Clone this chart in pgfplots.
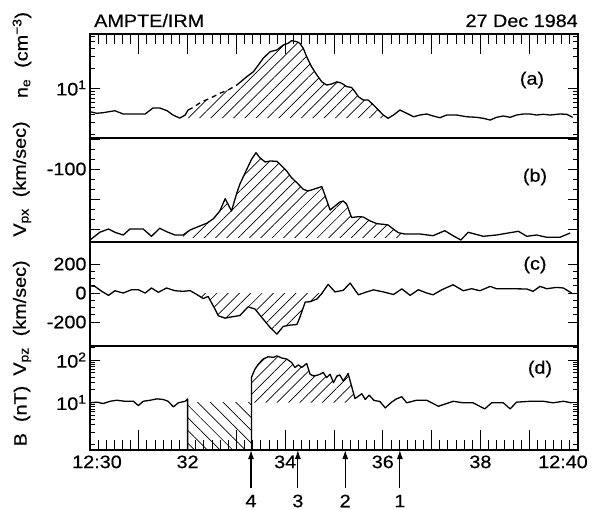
\documentclass[border=0pt]{standalone}
\usepackage{fontspec}
\setmainfont{Liberation Sans}[FakeStretch=1.1,FakeBold=0.5]
\usepackage{pgfplots}
\pgfplotsset{compat=1.18}
\usepackage{pgfplotstable}
\usepgfplotslibrary{fillbetween}
\usetikzlibrary{patterns.meta,arrows.meta}

\newcommand{\lbl}{\fontsize{18}{21}\selectfont}

% (a) electron density, cm^-3
\pgfplotstableread{
x y
30.00 4.38
30.14 4.14
30.27 4.23
30.51 4.53
30.68 4.04
30.88 4.04
31.13 4.04
31.29 4.98
31.43 4.98
31.58 4.53
31.70 3.90
31.84 3.50
31.95 3.90
32.01 4.64
32.08 4.92
32.29 6.20
32.46 6.98
32.66 8.31
32.83 9.33
33.01 11.1
33.21 14.8
33.35 17.7
33.45 22.3
33.55 28.2
33.69 35.5
33.83 37.7
33.96 44.8
34.06 47.5
34.13 52.1
34.24 50.3
34.30 47.5
34.37 40.0
34.44 29.8
34.54 21.0
34.65 15.7
34.75 12.4
34.85 11.1
34.95 11.5
35.06 12.4
35.16 11.8
35.26 10.5
35.36 10.2
35.43 8.79
35.50 7.38
35.60 6.58
35.70 6.58
35.81 5.52
35.91 4.64
36.01 3.90
36.11 3.48
36.22 3.90
36.35 4.64
36.49 4.14
36.63 3.67
36.76 3.90
36.90 4.04
37.03 3.77
37.17 3.55
37.31 3.90
37.51 3.90
37.72 3.67
37.92 3.60
38.06 3.48
38.20 3.27
38.33 3.60
38.47 3.77
38.61 3.60
38.74 3.90
38.88 4.04
39.02 4.04
39.15 3.90
39.29 4.00
39.43 3.90
39.63 4.04
39.77 4.00
39.89 3.60
}\tne

% (b) Vpx, km/sec
\pgfplotstableread{
x y
30.00 -29
30.20 -36.7
30.38 -40
30.51 -36.7
30.68 -34
30.82 -40
31.09 -40
31.26 -32.7
31.43 -40.7
31.57 -37.3
31.74 -34
31.91 -34
32.05 -39
32.25 -43
32.39 -45.7
32.53 -50.3
32.66 -58
32.77 -70.3
32.90 -58
33.01 -76.3
33.07 -84.7
33.18 -96.3
33.31 -109.7
33.40 -116.3
33.48 -111.3
33.59 -107
33.69 -108
33.83 -107.7
33.93 -103
34.03 -98
34.13 -91.3
34.24 -86.3
34.37 -79.7
34.47 -78
34.58 -79.7
34.68 -81.3
34.75 -82.5
34.82 -73
34.92 -59
35.02 -63
35.12 -67
35.19 -68
35.26 -64.7
35.36 -51.5
35.50 -52.3
35.60 -52
35.74 -48
35.88 -45.3
36.01 -44.7
36.11 -44
36.22 -39.7
36.32 -36.3
36.45 -35
36.76 -35
37.03 -33.3
37.27 -38.3
37.44 -33.3
37.60 -29
37.75 -36.7
38.06 -32.7
38.33 -34
38.57 -36
38.78 -37.7
38.95 -32.7
39.15 -34
39.36 -31.7
39.63 -31.7
39.84 -36
}\tvx

% (c) Vpz, km/sec
\pgfplotstableread{
x y
30.00 50
30.10 46
30.24 12
30.38 -16
30.51 16
30.68 0
30.85 23
30.99 23
31.13 0
31.26 35
31.40 5
31.57 35
31.74 16
31.91 12
32.05 17
32.19 -10
32.32 -38
32.42 -23
32.56 -110
32.63 -157
32.77 -173
32.87 -166
33.07 -155
33.24 -95
33.38 -110
33.52 -168
33.69 -237
33.83 -283
33.96 -230
34.10 -221
34.24 -217
34.30 -168
34.41 -62
34.51 -60
34.65 -41
34.75 -3
34.88 60
35.02 8
35.19 19
35.33 69
35.50 -12
35.67 8
35.81 22
36.01 8
36.22 -10
36.39 29
36.56 -16
36.73 23
36.90 0
37.03 -12
37.21 23
37.44 57
37.65 16
37.82 30
37.99 16
38.20 46
38.33 30
38.61 30
38.95 28
39.08 12
39.22 46
39.36 30
39.56 39
39.70 35
39.87 0
}\tvz

% (d) B, nT, before and after the gap
\pgfplotstableread{
x y
30.00 9.84
30.14 10.2
30.27 9.47
30.41 10.7
30.55 11.3
30.72 10.7
30.89 10.7
30.99 8.48
31.09 10.7
31.23 11.3
31.37 12.2
31.50 11.8
31.60 10.7
31.71 7.90
31.81 9.84
31.95 10.7
32.00 12.2
32.00 0.76
}\tbl

\pgfplotstableread{
x y
33.31 0.76
33.31 39.4
33.35 50.9
33.38 61.1
33.45 80.4
33.55 106
33.65 120
33.76 116
33.83 126
33.93 112
34.03 106
34.13 88.2
34.20 67.0
34.27 77.2
34.34 67.0
34.44 83.4
34.51 46.4
34.58 42.3
34.68 44.7
34.78 50.9
34.85 38.7
34.92 46.4
34.99 29.4
35.06 42.3
35.12 44.7
35.19 32.1
35.29 48.2
35.36 24.4
35.43 12.4
35.50 14.1
35.57 16.1
35.64 11.8
35.72 14.9
35.82 11.2
35.94 10.6
36.05 7.48
36.18 10.2
36.28 12.2
36.39 13.7
36.49 9.84
36.69 11.3
36.90 11.3
37.14 8.16
37.31 9.47
37.44 10.7
37.65 9.84
37.85 9.84
38.09 7.08
38.23 9.84
38.47 9.84
38.61 7.08
38.74 10.2
39.02 10.7
39.29 10.7
39.49 9.84
39.70 10.7
39.87 9.84
}\tbr

\pgfplotsset{
  box/.style={
    scale only axis, width=488pt, height=104pt,
    xmin=30, xmax=40,
    axis line style={line width=1.2pt},
    tick style={black, line width=0.9pt},
    tick label style={font=\lbl},
  },
  panel/.style={box, xtick=\empty, major tick length=10pt, minor tick length=5pt},
  curve/.style={black, line width=1.3pt, line join=round, mark=none},
  hatch/.style={draw=none, pattern={Lines[angle=45,distance=8pt,line width=0.7pt]}},
}

\begin{document}
\begin{tikzpicture}

% (a)
\begin{axis}[panel, name=pa, at={(0,0)}, anchor=north west, clip=false,
  ymode=log, ymin=1.75, ymax=65.8,
  ytick={10}, yticklabels={10\textsuperscript{1}},
  minor ytick={2,3,...,9,20,30,40,50,60}]
\addplot[hatch, restrict x to domain=32.005:36.115] table {\tne}
  -- (axis cs:36.11,3.5) -- (axis cs:32.01,3.5) -- cycle;
\addplot[curve, restrict x to domain=30:32.015] table {\tne};
\addplot[curve, dash pattern=on 5pt off 4pt, restrict x to domain=32.005:33.015] table {\tne};
\addplot[curve, restrict x to domain=33.005:40] table {\tne};
% time ticks along the top edge: every minute, minor every 10 s
\draw[line width=0.9pt]
  ([yshift=-20pt]axis cs:31,65.8) -- (axis cs:31,65.8)
  ([yshift=-20pt]axis cs:32,65.8) -- (axis cs:32,65.8)
  ([yshift=-20pt]axis cs:33,65.8) -- (axis cs:33,65.8)
  ([yshift=-20pt]axis cs:34,65.8) -- (axis cs:34,65.8)
  ([yshift=-20pt]axis cs:35,65.8) -- (axis cs:35,65.8)
  ([yshift=-20pt]axis cs:36,65.8) -- (axis cs:36,65.8)
  ([yshift=-20pt]axis cs:37,65.8) -- (axis cs:37,65.8)
  ([yshift=-20pt]axis cs:38,65.8) -- (axis cs:38,65.8)
  ([yshift=-20pt]axis cs:39,65.8) -- (axis cs:39,65.8);
\draw[line width=0.9pt]
  ([yshift=-10pt]axis cs:30.167,65.8) -- (axis cs:30.167,65.8)
  ([yshift=-10pt]axis cs:30.333,65.8) -- (axis cs:30.333,65.8)
  ([yshift=-10pt]axis cs:30.5,65.8) -- (axis cs:30.5,65.8)
  ([yshift=-10pt]axis cs:30.667,65.8) -- (axis cs:30.667,65.8)
  ([yshift=-10pt]axis cs:30.833,65.8) -- (axis cs:30.833,65.8)
  ([yshift=-10pt]axis cs:31.167,65.8) -- (axis cs:31.167,65.8)
  ([yshift=-10pt]axis cs:31.333,65.8) -- (axis cs:31.333,65.8)
  ([yshift=-10pt]axis cs:31.5,65.8) -- (axis cs:31.5,65.8)
  ([yshift=-10pt]axis cs:31.667,65.8) -- (axis cs:31.667,65.8)
  ([yshift=-10pt]axis cs:31.833,65.8) -- (axis cs:31.833,65.8)
  ([yshift=-10pt]axis cs:32.167,65.8) -- (axis cs:32.167,65.8)
  ([yshift=-10pt]axis cs:32.333,65.8) -- (axis cs:32.333,65.8)
  ([yshift=-10pt]axis cs:32.5,65.8) -- (axis cs:32.5,65.8)
  ([yshift=-10pt]axis cs:32.667,65.8) -- (axis cs:32.667,65.8)
  ([yshift=-10pt]axis cs:32.833,65.8) -- (axis cs:32.833,65.8)
  ([yshift=-10pt]axis cs:33.167,65.8) -- (axis cs:33.167,65.8)
  ([yshift=-10pt]axis cs:33.333,65.8) -- (axis cs:33.333,65.8)
  ([yshift=-10pt]axis cs:33.5,65.8) -- (axis cs:33.5,65.8)
  ([yshift=-10pt]axis cs:33.667,65.8) -- (axis cs:33.667,65.8)
  ([yshift=-10pt]axis cs:33.833,65.8) -- (axis cs:33.833,65.8)
  ([yshift=-10pt]axis cs:34.167,65.8) -- (axis cs:34.167,65.8)
  ([yshift=-10pt]axis cs:34.333,65.8) -- (axis cs:34.333,65.8)
  ([yshift=-10pt]axis cs:34.5,65.8) -- (axis cs:34.5,65.8)
  ([yshift=-10pt]axis cs:34.667,65.8) -- (axis cs:34.667,65.8)
  ([yshift=-10pt]axis cs:34.833,65.8) -- (axis cs:34.833,65.8)
  ([yshift=-10pt]axis cs:35.167,65.8) -- (axis cs:35.167,65.8)
  ([yshift=-10pt]axis cs:35.333,65.8) -- (axis cs:35.333,65.8)
  ([yshift=-10pt]axis cs:35.5,65.8) -- (axis cs:35.5,65.8)
  ([yshift=-10pt]axis cs:35.667,65.8) -- (axis cs:35.667,65.8)
  ([yshift=-10pt]axis cs:35.833,65.8) -- (axis cs:35.833,65.8)
  ([yshift=-10pt]axis cs:36.167,65.8) -- (axis cs:36.167,65.8)
  ([yshift=-10pt]axis cs:36.333,65.8) -- (axis cs:36.333,65.8)
  ([yshift=-10pt]axis cs:36.5,65.8) -- (axis cs:36.5,65.8)
  ([yshift=-10pt]axis cs:36.667,65.8) -- (axis cs:36.667,65.8)
  ([yshift=-10pt]axis cs:36.833,65.8) -- (axis cs:36.833,65.8)
  ([yshift=-10pt]axis cs:37.167,65.8) -- (axis cs:37.167,65.8)
  ([yshift=-10pt]axis cs:37.333,65.8) -- (axis cs:37.333,65.8)
  ([yshift=-10pt]axis cs:37.5,65.8) -- (axis cs:37.5,65.8)
  ([yshift=-10pt]axis cs:37.667,65.8) -- (axis cs:37.667,65.8)
  ([yshift=-10pt]axis cs:37.833,65.8) -- (axis cs:37.833,65.8)
  ([yshift=-10pt]axis cs:38.167,65.8) -- (axis cs:38.167,65.8)
  ([yshift=-10pt]axis cs:38.333,65.8) -- (axis cs:38.333,65.8)
  ([yshift=-10pt]axis cs:38.5,65.8) -- (axis cs:38.5,65.8)
  ([yshift=-10pt]axis cs:38.667,65.8) -- (axis cs:38.667,65.8)
  ([yshift=-10pt]axis cs:38.833,65.8) -- (axis cs:38.833,65.8)
  ([yshift=-10pt]axis cs:39.167,65.8) -- (axis cs:39.167,65.8)
  ([yshift=-10pt]axis cs:39.333,65.8) -- (axis cs:39.333,65.8)
  ([yshift=-10pt]axis cs:39.5,65.8) -- (axis cs:39.5,65.8)
  ([yshift=-10pt]axis cs:39.667,65.8) -- (axis cs:39.667,65.8)
  ([yshift=-10pt]axis cs:39.833,65.8) -- (axis cs:39.833,65.8);
\end{axis}

% (b)
\begin{axis}[panel, name=pb, at={(pa.south west)}, anchor=north west,
  y dir=reverse, ymin=-131, ymax=-27,
  ytick={-130,-100,-70,-40}, yticklabels={,-100,,}, minor y tick num=2]
\addplot[draw=none, name path=vx] table {\tvx};
\addplot[draw=none, name path=vxbase] coordinates {(31.91,-31) (36.45,-31)};
\addplot[hatch] fill between[of=vx and vxbase, soft clip={domain=31.91:36.45}];
\addplot[curve] table {\tvx};
\end{axis}

% (c)
\begin{axis}[panel, name=pc, at={(pb.south west)}, anchor=north west,
  ymin=-365, ymax=352,
  ytick={-200,0,200}, yticklabels={-200,0,200}, minor y tick num=3]
\addplot[draw=none, name path=vz] table {\tvz};
\addplot[draw=none, name path=vzbase] coordinates {(32.15,0) (34.76,0)};
\addplot[hatch] fill between[of=vz and vzbase, soft clip={domain=32.15:34.76}];
\addplot[curve] table {\tvz};
\end{axis}

% (d)
\begin{axis}[panel, name=pd, at={(pc.south west)}, anchor=north west,
  clip=false,
  ymode=log, ymin=0.76, ymax=215,
  ytick={10,100}, yticklabels={10\textsuperscript{1},10\textsuperscript{2}},
  minor ytick={1,2,...,9,20,30,...,90,200}]
\addplot[draw=none, pattern={Lines[angle=-45,distance=9pt,line width=0.7pt]}]
  coordinates {(32.00,0.76) (32.00,10) (33.31,10) (33.31,0.76)} -- cycle;
\addplot[hatch, restrict x to domain=33.33:35.435] table {\tbr}
  -- (axis cs:35.43,10) -- (axis cs:33.31,10) -- (axis cs:33.31,39.4) -- cycle;
\addplot[curve] table {\tbl};
\addplot[curve] table {\tbr};
% time ticks along the bottom edge
\draw[line width=0.9pt]
  ([yshift=20pt]axis cs:31,0.76) -- (axis cs:31,0.76)
  ([yshift=20pt]axis cs:32,0.76) -- (axis cs:32,0.76)
  ([yshift=20pt]axis cs:33,0.76) -- (axis cs:33,0.76)
  ([yshift=20pt]axis cs:34,0.76) -- (axis cs:34,0.76)
  ([yshift=20pt]axis cs:35,0.76) -- (axis cs:35,0.76)
  ([yshift=20pt]axis cs:36,0.76) -- (axis cs:36,0.76)
  ([yshift=20pt]axis cs:37,0.76) -- (axis cs:37,0.76)
  ([yshift=20pt]axis cs:38,0.76) -- (axis cs:38,0.76)
  ([yshift=20pt]axis cs:39,0.76) -- (axis cs:39,0.76);
\draw[line width=0.9pt]
  ([yshift=10pt]axis cs:30.167,0.76) -- (axis cs:30.167,0.76)
  ([yshift=10pt]axis cs:30.333,0.76) -- (axis cs:30.333,0.76)
  ([yshift=10pt]axis cs:30.5,0.76) -- (axis cs:30.5,0.76)
  ([yshift=10pt]axis cs:30.667,0.76) -- (axis cs:30.667,0.76)
  ([yshift=10pt]axis cs:30.833,0.76) -- (axis cs:30.833,0.76)
  ([yshift=10pt]axis cs:31.167,0.76) -- (axis cs:31.167,0.76)
  ([yshift=10pt]axis cs:31.333,0.76) -- (axis cs:31.333,0.76)
  ([yshift=10pt]axis cs:31.5,0.76) -- (axis cs:31.5,0.76)
  ([yshift=10pt]axis cs:31.667,0.76) -- (axis cs:31.667,0.76)
  ([yshift=10pt]axis cs:31.833,0.76) -- (axis cs:31.833,0.76)
  ([yshift=10pt]axis cs:32.167,0.76) -- (axis cs:32.167,0.76)
  ([yshift=10pt]axis cs:32.333,0.76) -- (axis cs:32.333,0.76)
  ([yshift=10pt]axis cs:32.5,0.76) -- (axis cs:32.5,0.76)
  ([yshift=10pt]axis cs:32.667,0.76) -- (axis cs:32.667,0.76)
  ([yshift=10pt]axis cs:32.833,0.76) -- (axis cs:32.833,0.76)
  ([yshift=10pt]axis cs:33.167,0.76) -- (axis cs:33.167,0.76)
  ([yshift=10pt]axis cs:33.333,0.76) -- (axis cs:33.333,0.76)
  ([yshift=10pt]axis cs:33.5,0.76) -- (axis cs:33.5,0.76)
  ([yshift=10pt]axis cs:33.667,0.76) -- (axis cs:33.667,0.76)
  ([yshift=10pt]axis cs:33.833,0.76) -- (axis cs:33.833,0.76)
  ([yshift=10pt]axis cs:34.167,0.76) -- (axis cs:34.167,0.76)
  ([yshift=10pt]axis cs:34.333,0.76) -- (axis cs:34.333,0.76)
  ([yshift=10pt]axis cs:34.5,0.76) -- (axis cs:34.5,0.76)
  ([yshift=10pt]axis cs:34.667,0.76) -- (axis cs:34.667,0.76)
  ([yshift=10pt]axis cs:34.833,0.76) -- (axis cs:34.833,0.76)
  ([yshift=10pt]axis cs:35.167,0.76) -- (axis cs:35.167,0.76)
  ([yshift=10pt]axis cs:35.333,0.76) -- (axis cs:35.333,0.76)
  ([yshift=10pt]axis cs:35.5,0.76) -- (axis cs:35.5,0.76)
  ([yshift=10pt]axis cs:35.667,0.76) -- (axis cs:35.667,0.76)
  ([yshift=10pt]axis cs:35.833,0.76) -- (axis cs:35.833,0.76)
  ([yshift=10pt]axis cs:36.167,0.76) -- (axis cs:36.167,0.76)
  ([yshift=10pt]axis cs:36.333,0.76) -- (axis cs:36.333,0.76)
  ([yshift=10pt]axis cs:36.5,0.76) -- (axis cs:36.5,0.76)
  ([yshift=10pt]axis cs:36.667,0.76) -- (axis cs:36.667,0.76)
  ([yshift=10pt]axis cs:36.833,0.76) -- (axis cs:36.833,0.76)
  ([yshift=10pt]axis cs:37.167,0.76) -- (axis cs:37.167,0.76)
  ([yshift=10pt]axis cs:37.333,0.76) -- (axis cs:37.333,0.76)
  ([yshift=10pt]axis cs:37.5,0.76) -- (axis cs:37.5,0.76)
  ([yshift=10pt]axis cs:37.667,0.76) -- (axis cs:37.667,0.76)
  ([yshift=10pt]axis cs:37.833,0.76) -- (axis cs:37.833,0.76)
  ([yshift=10pt]axis cs:38.167,0.76) -- (axis cs:38.167,0.76)
  ([yshift=10pt]axis cs:38.333,0.76) -- (axis cs:38.333,0.76)
  ([yshift=10pt]axis cs:38.5,0.76) -- (axis cs:38.5,0.76)
  ([yshift=10pt]axis cs:38.667,0.76) -- (axis cs:38.667,0.76)
  ([yshift=10pt]axis cs:38.833,0.76) -- (axis cs:38.833,0.76)
  ([yshift=10pt]axis cs:39.167,0.76) -- (axis cs:39.167,0.76)
  ([yshift=10pt]axis cs:39.333,0.76) -- (axis cs:39.333,0.76)
  ([yshift=10pt]axis cs:39.5,0.76) -- (axis cs:39.5,0.76)
  ([yshift=10pt]axis cs:39.667,0.76) -- (axis cs:39.667,0.76)
  ([yshift=10pt]axis cs:39.833,0.76) -- (axis cs:39.833,0.76);
% numbered arrows under the time axis
\draw[line width=1.2pt, -{Latex[length=9pt,width=6pt]}] ([yshift=-38pt]axis cs:33.30,0.76) -- (axis cs:33.30,0.76);
\draw[line width=1.2pt, -{Latex[length=9pt,width=6pt]}] ([yshift=-38pt]axis cs:34.26,0.76) -- (axis cs:34.26,0.76);
\draw[line width=1.2pt, -{Latex[length=9pt,width=6pt]}] ([yshift=-38pt]axis cs:35.23,0.76) -- (axis cs:35.23,0.76);
\draw[line width=1.2pt, -{Latex[length=9pt,width=6pt]}] ([yshift=-38pt]axis cs:36.35,0.76) -- (axis cs:36.35,0.76);
\node[font=\lbl] at ([yshift=-51pt]axis cs:33.30,0.76) {4};
\node[font=\lbl] at ([yshift=-51pt]axis cs:34.26,0.76) {3};
\node[font=\lbl] at ([yshift=-51pt]axis cs:35.23,0.76) {2};
\node[font=\lbl] at ([yshift=-51pt]axis cs:36.35,0.76) {1};
\end{axis}
% time labels
\begin{axis}[box, at={(pc.south west)}, anchor=north west, axis y line=none,
  axis x line*=bottom, ytick=\empty, ymin=0, ymax=1,
  xtick={30,...,40}, major tick length=0pt,
  xticklabels={\rule{14pt}{0pt}12:30,,32,,34,,36,,38,,12:40\rule{30pt}{0pt}},
  xticklabel style={yshift=-2pt}]
\addplot[draw=none] coordinates {(30,0.5)};
\end{axis}

% titles, panel tags and axis names
\node[font=\lbl, anchor=base west, inner sep=0] at (4pt,7pt) {AMPTE/IRM};
\node[font=\lbl, anchor=base east, inner sep=0] at (488pt,7pt) {27 Dec 1984};
\node[font=\lbl] at (442pt,-46pt) {(a)};
\node[font=\lbl] at (445pt,-143pt) {(b)};
\node[font=\lbl] at (445pt,-231pt) {(c)};
\node[font=\lbl] at (450pt,-335pt) {(d)};
\node[font=\lbl, rotate=90] at (-68pt,-21pt) {n\textsubscript{e}\ \ (cm\textsuperscript{−3})};
\node[font=\lbl, rotate=90] at (-68pt,-145pt) {V\textsubscript{px}\ \ (km/sec)};
\node[font=\lbl, rotate=90] at (-68pt,-284pt) {V\textsubscript{pz}\ \ (km/sec)};
\node[font=\lbl, rotate=90] at (-68pt,-382pt) {B\ \ (nT)};

\pgfresetboundingbox
\useasboundingbox (-90pt,34pt) rectangle (504pt,-476pt);
\end{tikzpicture}
\end{document}
